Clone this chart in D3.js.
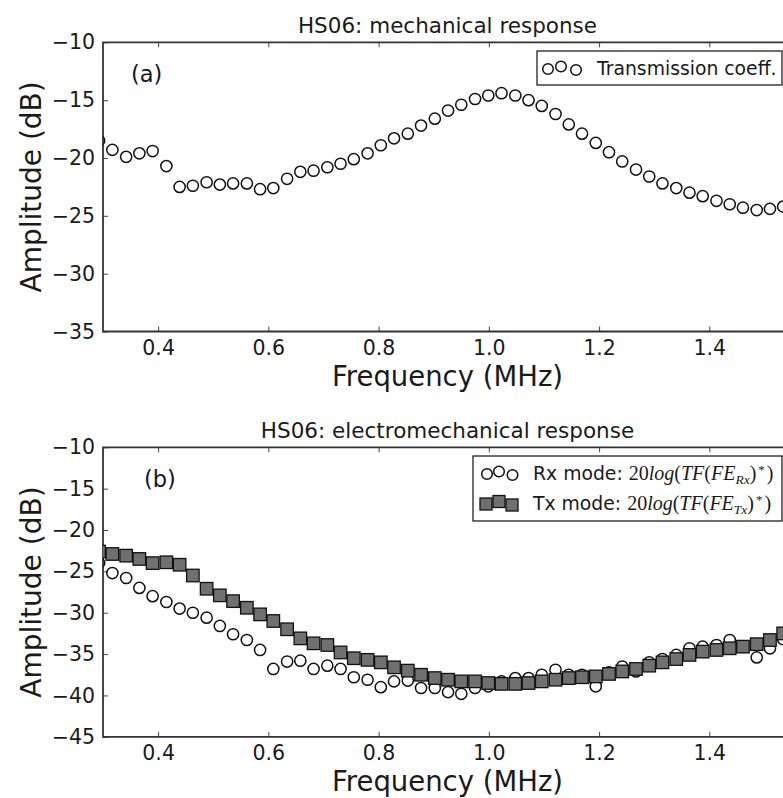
<!DOCTYPE html>
<html>
<head>
<meta charset="utf-8">
<script src="https://cdn.jsdelivr.net/npm/d3@7"></script>
<style>
  body { margin: 0; background: #fff; }
  svg { display: block; font-family: "DejaVu Sans", sans-serif; }
</style>
</head>
<body>
<div id="chart-area"></div>
<script>
// frequency grid (MHz), shared by both panels
const freq = [0.293, 0.317, 0.342, 0.366, 0.390, 0.415, 0.439, 0.463, 0.488, 0.512,
              0.536, 0.561, 0.585, 0.609, 0.634, 0.658, 0.682, 0.707, 0.731, 0.755,
              0.780, 0.804, 0.828, 0.853, 0.877, 0.902, 0.926, 0.950, 0.975, 0.999,
              1.023, 1.048, 1.072, 1.096, 1.121, 1.145, 1.169, 1.194, 1.218, 1.242,
              1.267, 1.291, 1.315, 1.340, 1.364, 1.388, 1.413, 1.437, 1.461, 1.486,
              1.510, 1.534];

// (a) transmission coefficient (dB)
const transCoeff = [-18.5, -19.3, -19.9, -19.6, -19.4, -20.7, -22.5, -22.4, -22.1, -22.3,
                    -22.2, -22.2, -22.7, -22.6, -21.8, -21.2, -21.1, -20.8, -20.5, -20.1,
                    -19.6, -18.9, -18.3, -17.9, -17.2, -16.6, -15.9, -15.4, -14.9, -14.6,
                    -14.4, -14.6, -15.0, -15.5, -16.2, -17.1, -17.9, -18.7, -19.5, -20.3,
                    -21.0, -21.6, -22.2, -22.6, -23.0, -23.3, -23.7, -24.0, -24.3, -24.5,
                    -24.4, -24.2];

// (b) Rx mode (dB)
const rxMode = [-24.0, -25.2, -25.8, -27.0, -28.0, -28.7, -29.5, -30.0, -30.6, -31.6,
                -32.6, -33.3, -34.5, -36.8, -35.9, -35.8, -36.8, -36.4, -36.8, -37.8,
                -38.1, -39.0, -38.3, -38.2, -39.1, -39.1, -39.6, -39.8, -39.1, -38.9,
                -38.3, -37.9, -37.9, -37.5, -36.9, -37.5, -37.5, -38.9, -37.2, -36.5,
                -37.1, -36.0, -35.6, -35.1, -34.3, -34.1, -33.9, -33.3, -34.1, -35.4,
                -34.3, -33.2];

// (b) Tx mode (dB)
const txMode = [-22.6, -22.9, -23.1, -23.5, -24.0, -23.9, -24.2, -25.5, -27.1, -27.9,
                -28.6, -29.4, -30.2, -31.0, -32.0, -33.1, -33.7, -33.9, -34.8, -35.5,
                -35.7, -36.0, -36.6, -37.0, -37.5, -37.9, -38.1, -38.3, -38.3, -38.5,
                -38.6, -38.6, -38.5, -38.3, -38.1, -37.9, -37.8, -37.7, -37.4, -37.1,
                -36.8, -36.4, -36.0, -35.6, -35.1, -34.7, -34.5, -34.3, -34.1, -33.8,
                -33.3, -32.5];

const xTicks = [0.4, 0.6, 0.8, 1.0, 1.2, 1.4];
const yTicksA = [-35, -30, -25, -20, -15, -10];
const yTicksB = [-45, -40, -35, -30, -25, -20, -15, -10];

const chartWidth = 783;
const chartHeight = 798;
const left = 103;
const right = 792;   // right spine falls just outside the picture

const svg = d3.select("#chart-area").append("svg")
    .attr("width", chartWidth)
    .attr("height", chartHeight);

const x = d3.scaleLinear().domain([0.3, 1.55]).range([left, right]);

function drawPanel(id, top, bottom, yDomain, yTicks, title, tag, tagX) {
    const y = d3.scaleLinear().domain(yDomain).range([bottom, top]);
    const g = svg.append("g").attr("class", "panel-" + id);

    g.append("clipPath").attr("id", "clip-" + id)
        .append("rect")
        .attr("x", left).attr("y", top)
        .attr("width", right - left).attr("height", bottom - top);

    // axes, ticks point inwards
    const xb = g.append("g")
        .attr("transform", `translate(0, ${bottom})`)
        .call(d3.axisBottom(x).tickValues(xTicks).tickFormat(d3.format(".1f"))
            .tickSize(-5).tickPadding(9));
    const xt = g.append("g")
        .attr("transform", `translate(0, ${top})`)
        .call(d3.axisTop(x).tickValues(xTicks).tickFormat("").tickSize(-5));
    const yl = g.append("g")
        .attr("transform", `translate(${left}, 0)`)
        .call(d3.axisLeft(y).tickValues(yTicks).tickFormat(d3.format("d"))
            .tickSize(-5).tickPadding(8));

    [xb, xt, yl].forEach(a => {
        a.select(".domain").remove();
        a.selectAll("line").attr("stroke", "#444").attr("stroke-width", 1);
        a.selectAll("text").attr("font-size", 20.5).attr("fill", "#1a1a1a")
            .attr("font-family", "DejaVu Sans");
    });

    // spines
    g.append("path")
        .attr("d", `M${right},${top}H${left}V${bottom}H${right}`)
        .attr("fill", "none")
        .attr("stroke", "#333")
        .attr("stroke-width", 1.8);

    g.append("text")
        .attr("x", (left + right) / 2)
        .attr("y", top - 9)
        .attr("text-anchor", "middle")
        .attr("font-size", 21.5)
        .attr("fill", "#1a1a1a")
        .text(title);

    g.append("text")
        .attr("x", (left + right) / 2)
        .attr("y", bottom + 54)
        .attr("text-anchor", "middle")
        .attr("font-size", 27.5)
        .attr("fill", "#1a1a1a")
        .text("Frequency (MHz)");

    g.append("text")
        .attr("transform", `translate(41, ${(top + bottom) / 2}) rotate(-90)`)
        .attr("text-anchor", "middle")
        .attr("font-size", 28)
        .attr("fill", "#1a1a1a")
        .text("Amplitude (dB)");

    g.append("text")
        .attr("x", tagX)
        .attr("y", top + 40)
        .attr("font-size", 22.5)
        .attr("fill", "#14142b")
        .text(tag);

    const plot = g.append("g").attr("clip-path", `url(#clip-${id})`);
    return { g, y, plot };
}

function circles(sel, xs, ys, y) {
    sel.selectAll(null)
        .data(d3.zip(xs, ys))
        .enter().append("circle")
        .attr("cx", d => x(d[0]))
        .attr("cy", d => y(d[1]))
        .attr("r", 5.6)
        .attr("fill", "none")
        .attr("stroke", "#111")
        .attr("stroke-width", 1.5);
}

function squares(sel, xs, ys, y) {
    const s = 12.5;
    sel.selectAll(null)
        .data(d3.zip(xs, ys))
        .enter().append("rect")
        .attr("x", d => x(d[0]) - s / 2)
        .attr("y", d => y(d[1]) - s / 2)
        .attr("width", s)
        .attr("height", s)
        .attr("fill", "#707070")
        .attr("stroke", "#111")
        .attr("stroke-width", 1.3);
}

// ---- panel (a)
const pa = drawPanel("a", 42.3, 331.5, [-35, -10], yTicksA,
    "HS06: mechanical response", "(a)", 131);
circles(pa.plot, freq, transCoeff, pa.y);

// legend (a)
const legA = pa.g.append("g");
legA.append("rect")
    .attr("x", 537).attr("y", 51)
    .attr("width", 245).attr("height", 34)
    .attr("fill", "#fff").attr("stroke", "#222").attr("stroke-width", 1.3);
[[548, 69], [561, 66.5], [576, 70]].forEach(p => {
    legA.append("circle").attr("cx", p[0]).attr("cy", p[1]).attr("r", 5.3)
        .attr("fill", "none").attr("stroke", "#111").attr("stroke-width", 1.5);
});
legA.append("text").attr("x", 597).attr("y", 74.5)
    .attr("font-size", 18.8).attr("fill", "#1a1a1a")
    .text("Transmission coeff.");

// ---- panel (b)
const pb = drawPanel("b", 447.3, 736.8, [-45, -10], yTicksB,
    "HS06: electromechanical response", "(b)", 144);
circles(pb.plot, freq, rxMode, pb.y);
squares(pb.plot, freq, txMode, pb.y);

// legend (b)
const legB = pb.g.append("g");
legB.append("rect")
    .attr("x", 473).attr("y", 456)
    .attr("width", 309).attr("height", 65)
    .attr("fill", "#fff").attr("stroke", "#222").attr("stroke-width", 1.3);
[[487, 474], [499, 471.5], [512.5, 475]].forEach(p => {
    legB.append("circle").attr("cx", p[0]).attr("cy", p[1]).attr("r", 5.3)
        .attr("fill", "none").attr("stroke", "#111").attr("stroke-width", 1.5);
});
[[486, 504], [499, 501.5], [512, 505]].forEach(p => {
    legB.append("rect").attr("x", p[0] - 6).attr("y", p[1] - 6)
        .attr("width", 12).attr("height", 12)
        .attr("fill", "#707070").attr("stroke", "#111").attr("stroke-width", 1.3);
});

function mathLabel(yPos, mode, sub) {
    const t = legB.append("text").attr("x", 533).attr("y", yPos)
        .attr("font-size", 18.8).attr("fill", "#1a1a1a");
    t.append("tspan").text(mode + " mode: ");
    const m = (txt, italic) => t.append("tspan")
        .attr("font-family", "Liberation Serif")
        .attr("font-size", 20)
        .attr("font-style", italic ? "italic" : "normal")
        .text(txt);
    m("20", false);
    m("log", true);
    m("(", false);
    m("TF", true);
    m("(", false);
    m("FE", true);
    t.append("tspan").attr("font-family", "Liberation Serif").attr("font-style", "italic")
        .attr("font-size", 13.5).attr("dy", 4).text(sub);
    t.append("tspan").attr("font-family", "Liberation Serif").attr("font-size", 20)
        .attr("dy", -4).text(")");
    t.append("tspan").attr("font-family", "Liberation Serif").attr("font-size", 13)
        .attr("dx", 2).attr("dy", -6).text("*");
    t.append("tspan").attr("font-family", "Liberation Serif").attr("font-size", 20)
        .attr("dx", 2).attr("dy", 6).text(")");
}
mathLabel(480, "Rx", "Rx");
mathLabel(510, "Tx", "Tx");
</script>
</body>
</html>
